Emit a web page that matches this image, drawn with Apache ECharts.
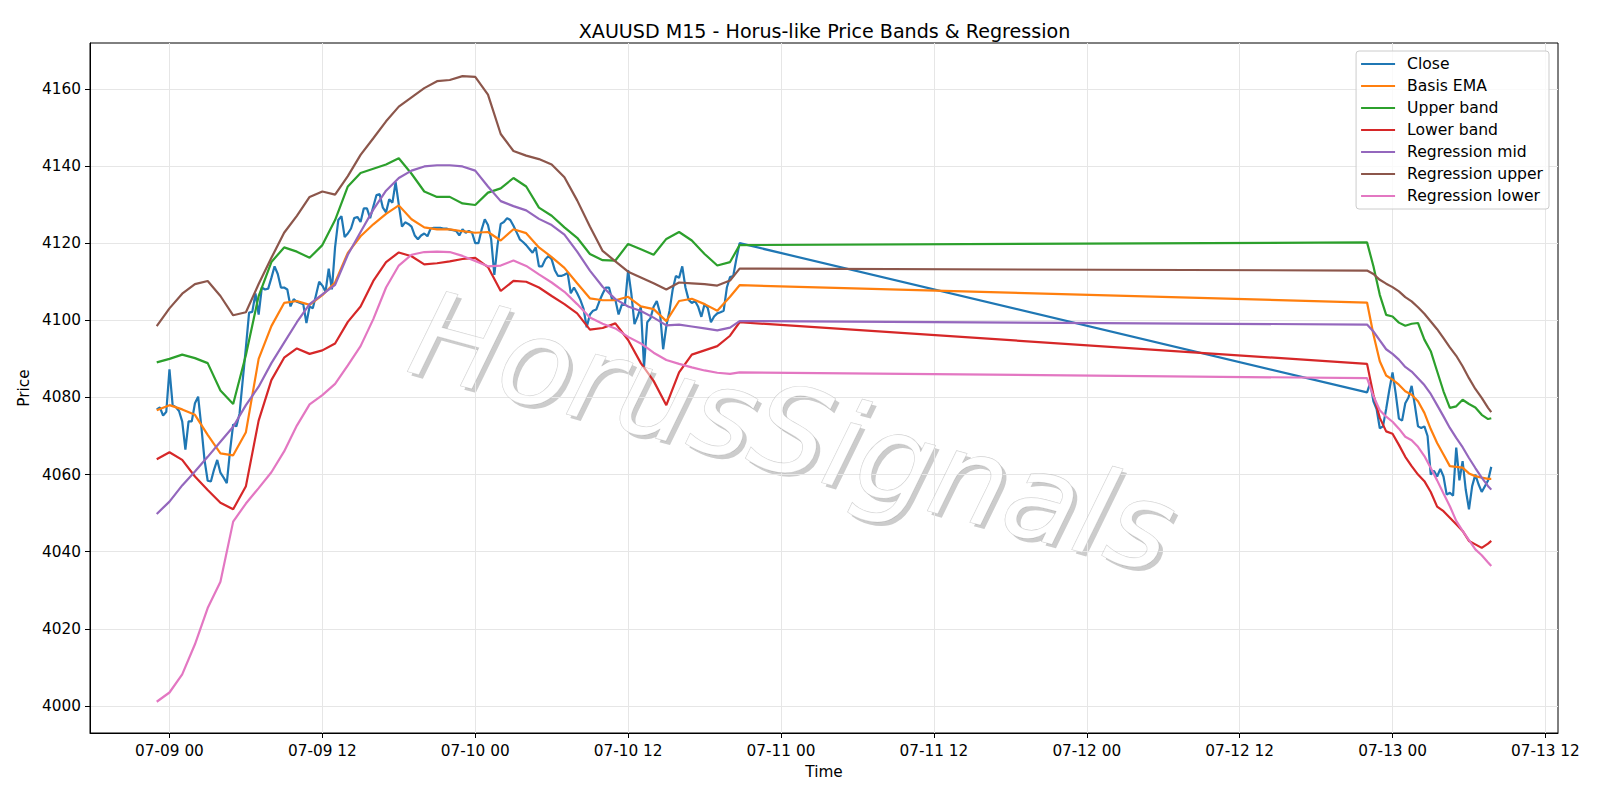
<!DOCTYPE html>
<html>
<head>
<meta charset="utf-8">
<title>XAUUSD M15 - Horus-like Price Bands &amp; Regression</title>
<script src="https://cdn.jsdelivr.net/npm/echarts@6.0.0/dist/echarts.min.js"></script>
<style>
  html, body { margin: 0; padding: 0; background: #fff; }
  #chart { width: 1600px; height: 800px; }
</style>
</head>
<body>
<div id="chart"></div>
<script>
// x values are hours counted from 07-09 00:00
const tickHours = [0, 12, 24, 36, 48, 60, 72, 84, 96, 108];
const tickLabels = ['07-09 00', '07-09 12', '07-10 00', '07-10 12', '07-11 00',
  '07-11 12', '07-12 00', '07-12 12', '07-13 00', '07-13 12'];
const priceTicks = [4000, 4020, 4040, 4060, 4080, 4100, 4120, 4140, 4160];

// close, one bar every 15 min
const closeStart1 = -1; // 07-08 23:00
const closeSeg1 = [
  4076.9, 4077.4, 4075.3, 4076.3, 4087.3, 4078, 4077.5, 4076.5, 4073.8, 4066.5,
  4073.8, 4073.8, 4078.5, 4080.2, 4072.5, 4063.8, 4058.4, 4058.2, 4061.3, 4063.8,
  4060.5, 4059.2, 4057.8, 4066, 4073, 4072.5, 4075.8, 4084.5, 4093, 4102,
  4102.2, 4107, 4101.5, 4108.5, 4108, 4108.2, 4111, 4114, 4112, 4108.5,
  4108.5, 4108, 4103.6, 4105.5, 4104.8, 4104.5, 4104.2, 4099.3, 4103.6, 4103.1,
  4106.5, 4110, 4109, 4107.4, 4113.4, 4108, 4119, 4126, 4127, 4121.6,
  4122.5, 4123.8, 4126.5, 4126.8, 4125.5, 4129, 4129, 4126.5, 4129.5, 4132.5,
  4132.7, 4129.2, 4128, 4131.4, 4130.5, 4135.8, 4130, 4124.3, 4125.4, 4125,
  4124.3, 4122, 4121, 4122, 4122.5, 4121.8, 4123.8, 4124, 4124, 4124,
  4123.8, 4123.8, 4123.5, 4123.4, 4123.2, 4122, 4123.6, 4122.7, 4123.2, 4122.7,
  4120, 4120, 4123.5, 4126.2, 4124.7, 4121, 4111.8, 4119.5, 4125, 4125.5,
  4126.5, 4126, 4124.5, 4122.8, 4121, 4120.3, 4119.5, 4118.5, 4117.5, 4118.9,
  4114, 4114, 4115.8, 4116.7, 4115.8, 4113, 4111.5, 4111.5, 4111.8, 4112.3,
  4107, 4108.5, 4107, 4105.3, 4103, 4098.2, 4101.5, 4102.5, 4102.8, 4105,
  4106.9, 4108.5, 4108.5, 4105.3, 4105.3, 4101.5, 4104, 4104, 4113, 4107,
  4099, 4101, 4103.5, 4088, 4099.5, 4100.5, 4103.5, 4105, 4102, 4092.5,
  4098.5, 4102.5, 4108, 4111.5, 4111, 4114, 4108.5, 4105.3, 4104.5, 4105,
  4103.5, 4100.9, 4104.2, 4103.2, 4099.5, 4101, 4101.8, 4102.1, 4102.5, 4108.5,
  4111.2, 4111.5, 4116, 4120
];
const closeStart2 = 94; // 07-12 22:00
const closeSeg2 = [
  4081.3, 4083.8, 4079, 4077, 4072, 4072.5, 4077, 4082, 4086.5, 4081,
  4074.5, 4074, 4078.5, 4080, 4083, 4078, 4072.5, 4072.1, 4072.5, 4070,
  4060, 4061, 4059.5, 4061.5, 4059.5, 4054.8, 4055.3, 4054.5, 4067, 4058.5,
  4063.5, 4056, 4051, 4057, 4060, 4057.5, 4055.5, 4057, 4058.5, 4062
];

// bands: hourly in the first session, half-hourly in the second
const bandHours = [
  -1, 0, 1, 2, 3, 4, 5, 6, 7, 8, 9, 10, 11, 12,
  13, 14, 15, 16, 17, 18, 19, 20, 21, 22, 23, 24, 25, 26, 27, 28,
  29, 30, 31, 32, 33, 34, 35, 36, 37, 38, 39, 40, 41, 42, 43, 44, 44.75,
  94, 94.5, 95, 95.5, 96, 96.5, 97, 97.5, 98, 98.5, 99, 99.5, 100, 100.5,
  101, 101.5, 102, 102.5, 103, 103.5, 103.75
];
const basisEma = [
  4076.7, 4078, 4076.9, 4075.5, 4070.3, 4065.5, 4065, 4071, 4090, 4098.5, 4104.5, 4105, 4104, 4106.5,
  4109.8, 4117.5, 4121.8, 4124.9, 4127.6, 4129.8, 4126.2, 4124.1, 4123.6, 4123.6, 4123.1, 4122.7, 4122.9, 4120.7, 4123.6, 4122.6,
  4118.9, 4116.4, 4113.6, 4109.6, 4105.7, 4105.2, 4105.2, 4106.1, 4103.6, 4102.9, 4099.8, 4105, 4105.6, 4104.2, 4102.5, 4106.1, 4109.1,
  4104.6, 4096.3, 4089.4, 4085.7, 4084.6, 4083.3, 4081.6, 4080.7, 4079, 4076, 4071.8, 4068.2, 4065.2, 4062.2,
  4062, 4061.8, 4060.3, 4059.6, 4059.2, 4058.9, 4058.9
];
const upperBand = [
  4089.1, 4090, 4091.1, 4090.2, 4088.9, 4081.8, 4078.3, 4091, 4106.3, 4115.1, 4118.9, 4117.8, 4116.2, 4119.5,
  4126, 4134.7, 4138.2, 4139.3, 4140.4, 4142, 4138, 4133.4, 4132, 4132, 4130.3, 4129.9, 4133.1, 4134.2, 4136.9, 4134.7,
  4129.2, 4127.1, 4124.1, 4121.4, 4117.2, 4115.6, 4115.5, 4119.8, 4118.4, 4117, 4121.1, 4122.9, 4120.7, 4117.2, 4114.2, 4115.1, 4119.5,
  4120.2, 4114, 4106.6, 4101.4, 4101, 4099.4, 4098.6, 4099.1, 4099.3, 4095, 4092, 4086.8, 4081.6, 4077.3,
  4077.7, 4079.4, 4078.3, 4077.4, 4075.5, 4074.4, 4074.6
];
const lowerBand = [
  4064, 4065.8, 4063.8, 4059.5, 4056, 4052.7, 4051, 4057, 4074, 4084.5, 4090.3, 4092.7, 4091.3, 4092.2,
  4094, 4099.6, 4103.6, 4110.2, 4115.1, 4117.6, 4116.6, 4114.5, 4114.8, 4115.3, 4115.9, 4116.2, 4113.8, 4107.6, 4110.2, 4110,
  4108.5, 4106.3, 4104.2, 4101.8, 4097.6, 4098, 4099.2, 4094.9, 4088.9, 4084.3, 4078, 4086.5, 4091.1, 4092.2, 4093.3, 4096, 4099.5,
  4088.7, 4080.7, 4074.7, 4071.2, 4070.6, 4067.7, 4064.6, 4062.2, 4060, 4058.3, 4055.5, 4051.7, 4050.5, 4048.8,
  4047.1, 4045.4, 4042.8, 4041.9, 4041, 4042.1, 4042.8
];
const regMid = [
  4049.8, 4053, 4057.2, 4060.8, 4064.6, 4068.5, 4072.4, 4078, 4082.8, 4088.9, 4094.2, 4099.5, 4104.2, 4106.7,
  4109.2, 4117, 4122.9, 4128.7, 4133.6, 4136.9, 4138.8, 4139.9, 4140.2, 4140.2, 4139.9, 4138.8, 4134.7, 4130.9, 4129.6, 4128.5,
  4126.3, 4124.7, 4122.2, 4117.8, 4112.9, 4108.7, 4105.5, 4103.6, 4102.4, 4100.7, 4098.7, 4098.9, 4098.4, 4097.9, 4097.4, 4098.1, 4099.8,
  4098.9, 4097.1, 4094.8, 4092.5, 4091.3, 4089.8, 4087.9, 4086.7, 4085, 4083.2, 4080.9, 4078, 4075.1, 4072.1,
  4069.5, 4067.1, 4064.3, 4061.7, 4059.2, 4057, 4056.1
];
const regUpper = [
  4098.5, 4103.1, 4106.9, 4109.4, 4110.2, 4106.3, 4101.3, 4102.1, 4109.4, 4116.2, 4122.7, 4127.1, 4132, 4133.4,
  4132.6, 4137.4, 4142.9, 4147.2, 4151.6, 4155.4, 4157.8, 4160.2, 4162, 4162.3, 4163.3, 4163.1, 4158.5, 4148.3, 4143.9, 4142.7,
  4141.8, 4140.4, 4137.1, 4131.1, 4124.3, 4118, 4115.3, 4112.6, 4111.1, 4109.6, 4108, 4109.8, 4109.6, 4109.4, 4109, 4110.3, 4113.4,
  4112.9, 4112, 4110.5, 4109.5, 4108.6, 4107.5, 4106, 4104.9, 4103.4, 4101.7, 4099.7, 4097.7, 4095.4, 4093,
  4090.8, 4088.1, 4085, 4082.2, 4079.9, 4077.3, 4076.2
];
const regLower = [
  4001.1, 4003.5, 4008.2, 4016, 4025.4, 4032.2, 4047.8, 4052.5, 4056.5, 4060.6, 4066, 4072.7, 4078.2, 4080.6,
  4083.5, 4088.3, 4093.3, 4100.3, 4108.5, 4114.2, 4117, 4117.7, 4117.8, 4117.7, 4116.7, 4115.4, 4114, 4114.2, 4115.5, 4114.1,
  4111.9, 4109.8, 4107.4, 4104.2, 4100.7, 4099.1, 4097.9, 4095.7, 4094, 4091.6, 4089.7, 4088.7, 4087.8, 4087, 4086.4, 4086.1, 4086.5,
  4085, 4080.3, 4076.7, 4075, 4073.7, 4071.9, 4069.8, 4068.9, 4067.2, 4064.8, 4061.7, 4058.5, 4055.1, 4051.8,
  4048, 4045.4, 4043, 4040.6, 4039.1, 4037.2, 4036.3
];

const seriesNames = ['Close', 'Basis EMA', 'Upper band', 'Lower band',
  'Regression mid', 'Regression upper', 'Regression lower'];
const seriesColors = ['#1f77b4', '#ff7f0e', '#2ca02c', '#d62728', '#9467bd', '#8c564b', '#e377c2'];

const watermarkText = 'HorusSignals';

// build [hour, price] pairs
const closeData = [];
closeSeg1.forEach((v, i) => closeData.push([closeStart1 + i * 0.25, v]));
closeSeg2.forEach((v, i) => closeData.push([closeStart2 + i * 0.25, v]));
const pair = vals => bandHours.map((h, i) => [h, vals[i]]);
const allData = [closeData, pair(basisEma), pair(upperBand), pair(lowerBand),
  pair(regMid), pair(regUpper), pair(regLower)];

const FONT = 'DejaVu Sans';
const chart = echarts.init(document.getElementById('chart'), null, { renderer: 'svg' });

// watermark, rotated across the plot
const wmX = 793, wmY = 432;
const wmRot = -15 * Math.PI / 180;
const wmFont = 'italic 120px "DejaVu Sans"';
function wmText(dx, dy, z, extra) {
  return {
    type: 'text', x: wmX + dx, y: wmY + dy, rotation: wmRot, z: z, silent: true,
    style: Object.assign({
      text: watermarkText, font: wmFont,
      textAlign: 'center', textVerticalAlign: 'middle',
      align: 'center', verticalAlign: 'middle'
    }, extra)
  };
}

const option = {
  animation: false,
  backgroundColor: '#fff',
  textStyle: { fontFamily: FONT },
  title: {
    text: 'XAUUSD M15 - Horus-like Price Bands & Regression',
    left: 819.5, top: 17, textAlign: 'center',
    textStyle: { fontSize: 19.1, fontWeight: 'normal', color: '#000', fontFamily: FONT }
  },
  legend: {
    orient: 'vertical', right: 51, top: 51,
    icon: 'rect', itemWidth: 34, itemHeight: 2.2, itemGap: 6,
    padding: [5, 6, 5, 5],
    backgroundColor: 'rgba(255,255,255,0.8)',
    borderColor: '#cccccc', borderWidth: 1, borderRadius: 3,
    textStyle: { fontSize: 15.6, lineHeight: 16, color: '#000', fontFamily: FONT, padding: [0, 0, 0, 7] },
    data: seriesNames
  },
  grid: {
    left: 90, right: 42, top: 43, bottom: 67,
    show: true, borderColor: '#000', borderWidth: 1,
    containLabel: false, outerBoundsMode: 'none'
  },
  xAxis: {
    type: 'value', min: -6.2375, max: 108.9875,
    name: 'Time', nameLocation: 'middle', nameGap: 31,
    nameTextStyle: { fontSize: 15.3, color: '#000', fontFamily: FONT },
    axisLine: { show: true, onZero: false, lineStyle: { color: '#000', width: 1 } },
    axisTick: { show: true, length: 5, customValues: tickHours, lineStyle: { color: '#000', width: 1 } },
    axisLabel: {
      customValues: tickHours, margin: 10, fontSize: 15.3, color: '#000', fontFamily: FONT,
      formatter: v => tickLabels[tickHours.indexOf(v)] || ''
    },
    splitLine: { show: true, lineStyle: { color: '#e6e6e6', width: 1 } }
  },
  yAxis: {
    type: 'value', min: 3993.0, max: 4171.9,
    name: 'Price', nameLocation: 'middle', nameGap: 55, nameRotate: 90,
    nameTextStyle: { fontSize: 15.3, color: '#000', fontFamily: FONT },
    axisLine: { show: true, onZero: false, lineStyle: { color: '#000', width: 1 } },
    axisTick: { show: true, length: 5, customValues: priceTicks, lineStyle: { color: '#000', width: 1 } },
    axisLabel: {
      customValues: priceTicks, margin: 9, fontSize: 15.3, color: '#000', fontFamily: FONT,
      formatter: v => String(v)
    },
    splitLine: { show: true, lineStyle: { color: '#e6e6e6', width: 1 } }
  },
  graphic: [
    // shadow, white blank-out, then a translucent top layer over the lines
    wmText(4, 4, -2, { fill: '#cccccc' }),
    wmText(0, 0, -1, { fill: '#ffffff' }),
    wmText(0, 0, 50, { fill: 'rgba(255,255,255,0.5)', stroke: 'rgba(150,150,150,0.5)', lineWidth: 0.7 })
  ],
  series: seriesNames.map((name, i) => ({
    name: name,
    type: 'line',
    data: allData[i],
    showSymbol: false,
    symbol: 'none',
    color: seriesColors[i],
    lineStyle: { color: seriesColors[i], width: 2.2 },
    emphasis: { disabled: true }
  }))
};

chart.setOption(option);
</script>
</body>
</html>
